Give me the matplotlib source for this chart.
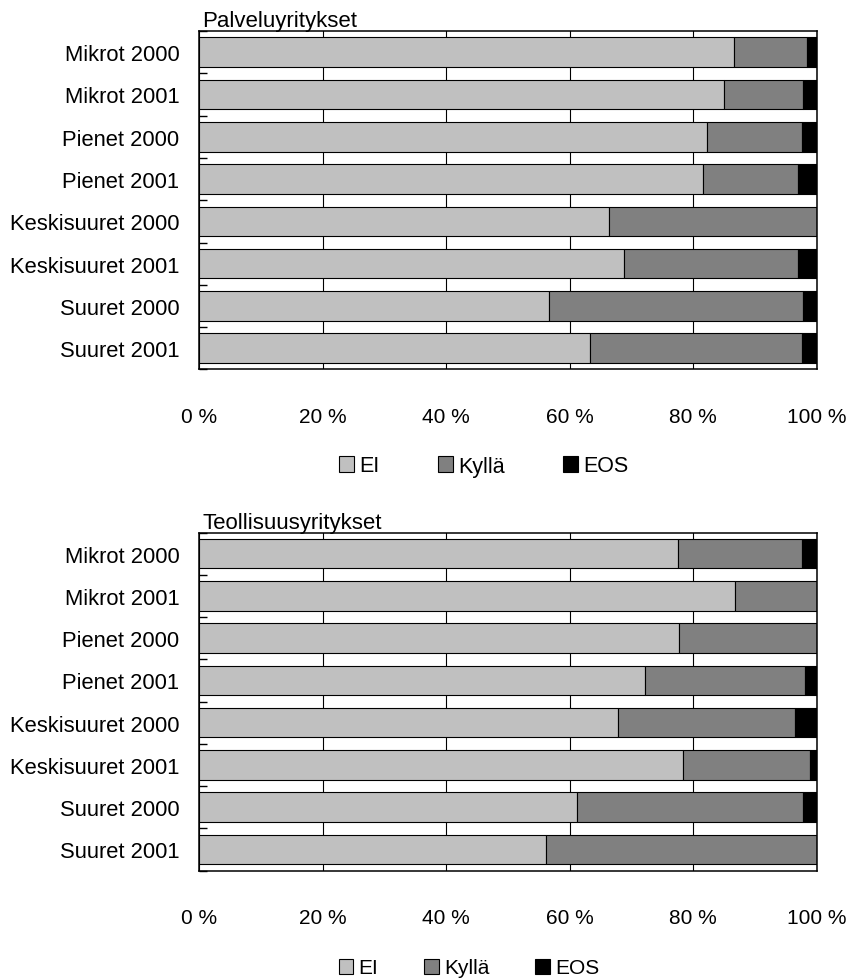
import matplotlib.pyplot as plt
import numpy as np

plt.rcParams['font.family'] = ['Liberation Sans', 'DejaVu Sans']

categories = ['Mikrot 2000', 'Mikrot 2001', 'Pienet 2000', 'Pienet 2001',
              'Keskisuuret 2000', 'Keskisuuret 2001', 'Suuret 2000', 'Suuret 2001']
series = ['EI', 'Kyllä', 'EOS']
colors = ['#C0C0C0', '#808080', '#000000']

# Palveluyritykset, percent
palv_ei = [86.5, 84.9, 82.2, 81.6, 66.4, 68.7, 56.6, 63.3]
palv_kylla = [11.9, 12.9, 15.3, 15.4, 33.6, 28.2, 41.2, 34.3]
palv_eos = [1.6, 2.2, 2.5, 3.0, 0.0, 3.1, 2.2, 2.4]

# Teollisuusyritykset, percent
teol_ei = [77.5, 86.8, 77.7, 72.1, 67.8, 78.3, 61.2, 56.1]
teol_kylla = [20.0, 13.2, 22.3, 25.9, 28.6, 20.6, 36.6, 43.9]
teol_eos = [2.5, 0.0, 0.0, 2.0, 3.6, 1.1, 2.2, 0.0]

xticks = [0, 20, 40, 60, 80, 100]
xticklabels = ['0 %', '20 %', '40 %', '60 %', '80 %', '100 %']


def draw(ax, title, ei, kylla, eos):
    y = np.arange(len(categories))
    left = np.zeros(len(categories))
    for vals, name, c in zip([ei, kylla, eos], series, colors):
        ax.barh(y, vals, left=left, height=0.70, color=c, edgecolor='black',
                linewidth=0.8, label=name, zorder=2)
        left += np.array(vals)
    ax.set_xlim(0, 100)
    ax.set_ylim(len(categories) - 0.5, -0.5)
    ax.set_yticks(y)
    ax.set_yticklabels(categories, fontsize=15.8)
    ax.set_yticks(np.arange(-0.5, len(categories)), minor=True)
    ax.tick_params(axis='y', which='major', length=0, pad=14)
    ax.tick_params(axis='y', which='minor', direction='in', length=6, width=1)
    ax.set_xticks(xticks)
    ax.set_xticklabels(xticklabels, fontsize=15)
    ax.tick_params(axis='x', length=0, pad=27)
    ax.xaxis.grid(True, color='black', linewidth=0.8, zorder=0)
    ax.set_axisbelow(True)
    for s in ax.spines.values():
        s.set_linewidth(1.1)
    ax.set_title(title, loc='left', fontsize=16, pad=3, x=0.005)


fig = plt.figure(figsize=(8.51, 9.79), dpi=100)

ax1 = fig.add_axes([0.2338, 0.6216, 0.7262, 0.3458])
draw(ax1, 'Palveluyritykset', palv_ei, palv_kylla, palv_eos)
h, l = ax1.get_legend_handles_labels()
fig.legend(h, l, loc='center', bbox_to_anchor=(484 / 851, 1 - 467 / 979), ncol=3,
           frameon=False, fontsize=15.5, handlelength=0.7, handleheight=0.7,
           handletextpad=0.25, columnspacing=2.7)

ax2 = fig.add_axes([0.2338, 0.1097, 0.7262, 0.3453])
draw(ax2, 'Teollisuusyritykset', teol_ei, teol_kylla, teol_eos)
h, l = ax2.get_legend_handles_labels()
fig.legend(h, l, loc='center', bbox_to_anchor=(469 / 851, 1 - 969 / 979), ncol=3,
           frameon=False, fontsize=15, handlelength=0.7, handleheight=0.7,
           handletextpad=0.25, columnspacing=2.2)

plt.savefig('out.png', dpi=100)
